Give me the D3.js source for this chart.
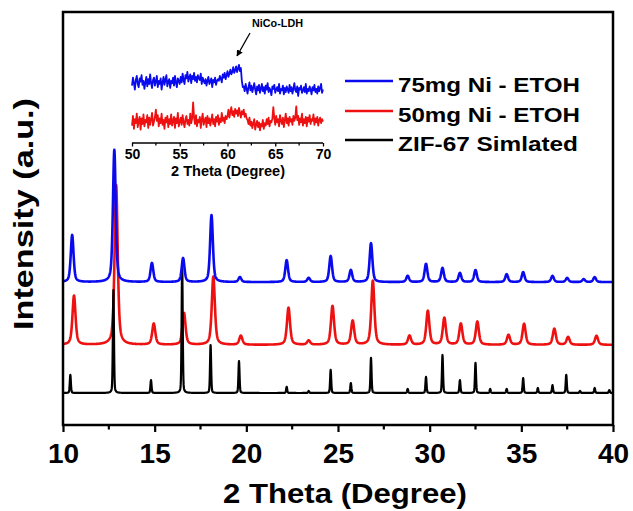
<!DOCTYPE html>
<html>
<head>
<meta charset="utf-8">
<script src="https://cdn.jsdelivr.net/npm/d3@7/dist/d3.min.js"></script>
<style>
  html, body { margin: 0; padding: 0; background: #fff; }
  svg text { font-family: "Liberation Sans", Arial, Helvetica, sans-serif; font-weight: bold; fill: #000; }
</style>
</head>
<body>
<svg id="chart" width="633" height="511"></svg>
<script>
// ---- XRD peak tables: [2θ position (deg), peak intensity (a.u.)] ----
const peaks75 = [
  [10.5, 11.4], [12.8, 32.0], [14.85, 4.6], [16.55, 5.8], [18.1, 16.2], [19.65, 1.2],
  [22.2, 5.3], [23.4, 1.0], [24.6, 6.3], [25.7, 2.9], [26.8, 9.4], [28.8, 1.5],
  [29.8, 4.4], [30.7, 3.4], [31.65, 2.2], [32.5, 2.9], [34.2, 1.9], [35.1, 2.4],
  [36.7, 1.5], [37.5, 1.0], [38.4, 0.7], [39.0, 1.2]
];
const peaks50 = [
  [10.6, 11.9], [12.9, 38.7], [14.95, 5.1], [16.6, 7.7], [18.2, 16.5], [19.7, 2.2],
  [22.3, 9.0], [23.4, 1.0], [24.7, 9.4], [25.8, 5.8], [26.9, 15.5], [28.9, 2.2],
  [29.9, 8.2], [30.8, 6.5], [31.7, 5.1], [32.6, 5.6], [34.3, 2.4], [35.15, 5.1],
  [36.8, 3.9], [37.55, 1.9], [39.1, 2.2]
];
const peaksSim = [
  [10.4, 4.4], [12.75, 24.9], [14.8, 3.1], [16.5, 31.0], [18.05, 11.6], [19.6, 7.7],
  [22.2, 1.5], [23.4, 0.5], [24.6, 5.6], [25.7, 2.4], [26.8, 8.5], [28.8, 1.0],
  [29.8, 3.9], [30.7, 9.2], [31.65, 3.1], [32.5, 7.3], [33.3, 1.0], [34.2, 1.0],
  [35.1, 3.6], [35.9, 1.2], [36.7, 1.9], [37.45, 4.4], [38.2, 0.5], [39.0, 1.2], [39.8, 0.7]
];
// vertical offsets of the stacked patterns (a.u.)
const offsets = { s75: 34.6, s50: 19.4, sim: 7.75 };

const seriesNames = ["75mg Ni - ETOH", "50mg Ni - ETOH", "ZIF-67 Simlated"];
const seriesColors = ["#0a0aee", "#ee1111", "#000000"];

// ---- inset: high-angle scan 50–70°, step 0.1° ----
const insetTheta0 = 50, insetStep = 0.1;
const inset75 = [
  68,78,71,63,75,80,70,66,77,73,81,69,74,64,72,79,67,76,70,82,
  71,65,75,78,68,73,80,66,74,70,77,63,72,79,69,75,81,67,73,76,
  65,74,71,78,68,80,72,66,77,74,70,
  79,72,83,75,70,81,77,85,73,78,82,71,80,76,84,74,79,72,81,77,75,83,70,78,74,
  71,76,68,74,79,70,73,77,66,75,72,78,69,74,76,
  74,80,77,72,82,78,84,76,81,86,79,83,88,82,85,91,84,87,92,85,89,94,86,90,
  74,66,
  67,61,70,64,58,66,72,62,68,60,65,71,63,57,67,62,69,59,64,70,
  61,66,58,68,63,71,60,65,62,56,67,64,69,59,63,66,61,70,58,64,
  62,68,57,65,60,67,63,59,69,61,66,58,64,71,62,60,67,55,65,63,
  68,59,62,66,60,70,58,64,61,67,63,57,66,62,69,60,64,58,67,61,
  65,70,59,63
];
const inset50 = [
  18,30,14,26,21,33,16,24,29,13,27,20,32,17,25,22,31,15,28,19,26,34,18,23,29,
  38,
  24,31,17,27,21,33,19,25,14,28,22,30,16,26,20,32,18,24,29,15,
  27,21,34,17,23,28,19,31,22,16,26,30,20,25,18,33,21,27,
  47,
  28,20,31,17,25,22,29,15,26,33,19,24,28,16,30,21,27,18,25,32,
  20,26,17,29,23,31,19,27,22,34,24,28,21,30,26,
  30,38,28,35,41,31,36,29,39,33,37,30,40,34,28,36,32,38,29,33,27,
  25,20,28,18,23,15,21,26,13,19,24,16,22,12,20,17,25,14,21,18,26,20,28,17,24,22,27,
  41,
  27,19,30,22,26,17,31,24,20,28,16,25,33,21,27,18,29,23,26,19,30,24,28,
  42,
  25,30,19,27,22,33,18,26,21,29,17,28,23,31,20,26,24,32,19,27,22,29,18,25,28,21,26,23
];

const xTicks = [10, 15, 20, 25, 30, 35, 40];
const insetTicks = [50, 55, 60, 65, 70];

// ---- layout ----
const svg = d3.select("#chart");
const L = 63, R = 613, T = 12, B = 425;

const x = d3.scaleLinear().domain([10, 40]).range([L, R]);
const y = d3.scaleLinear().domain([0, 100]).range([B, T]);

// pseudo-Voigt line shape with unit height
function profile(d, fwhm, eta) {
  const g = Math.exp(-4 * Math.LN2 * d * d / (fwhm * fwhm));
  const l = 1 / (1 + 4 * d * d / (fwhm * fwhm));
  return eta * l + (1 - eta) * g;
}
function pattern(peaks, offset, fwhm, eta) {
  return d3.range(10, 40.0001, 0.01).map(t => {
    let v = offset;
    for (const [c, h] of peaks) v += h * profile(t - c, fwhm, eta);
    return [t, v];
  });
}

const line = d3.line().x(d => x(d[0])).y(d => y(d[1]));

svg.append("clipPath").attr("id", "plotClip")
  .append("rect").attr("x", L).attr("y", T).attr("width", R - L).attr("height", B - T);

const plot = svg.append("g").attr("clip-path", "url(#plotClip)");
plot.append("path").datum(pattern(peaks50, offsets.s50, 0.2, 0.55))
  .attr("d", line).attr("fill", "none").attr("stroke", seriesColors[1])
  .attr("stroke-width", 2.6).attr("stroke-linejoin", "round");
plot.append("path").datum(pattern(peaksSim, offsets.sim, 0.07, 0.3))
  .attr("d", line).attr("fill", "none").attr("stroke", seriesColors[2])
  .attr("stroke-width", 2.2).attr("stroke-linejoin", "round");
plot.append("path").datum(pattern(peaks75, offsets.s75, 0.18, 0.5))
  .attr("d", line).attr("fill", "none").attr("stroke", seriesColors[0])
  .attr("stroke-width", 2.6).attr("stroke-linejoin", "round");

// frame
svg.append("rect").attr("x", L).attr("y", T).attr("width", R - L).attr("height", B - T)
  .attr("fill", "none").attr("stroke", "#000").attr("stroke-width", 2.5);

// bottom axis: major ticks with labels, minor ticks between
const xAxis = d3.axisBottom(x).tickValues(xTicks).tickSize(7).tickSizeOuter(0).tickPadding(11)
  .tickFormat(d3.format("d"));
const gx = svg.append("g").attr("transform", `translate(0,${B})`).call(xAxis);
gx.select(".domain").remove();
gx.selectAll(".tick line").attr("stroke-width", 2.2);
gx.selectAll(".tick text").style("font-size", "28px").attr("dy", "0.71em");
svg.append("g").selectAll("line").data(d3.range(12.5, 40, 5)).join("line")
  .attr("x1", d => x(d)).attr("x2", d => x(d)).attr("y1", B).attr("y2", B + 4.5)
  .attr("stroke", "#000").attr("stroke-width", 2.2);

// axis titles
svg.append("text").attr("x", 345).attr("y", 503).attr("text-anchor", "middle")
  .style("font-size", "28px").attr("textLength", 244).attr("lengthAdjust", "spacingAndGlyphs")
  .text("2 Theta (Degree)");
svg.append("text").attr("transform", "translate(33,214) rotate(-90)").attr("text-anchor", "middle")
  .style("font-size", "27px").attr("textLength", 232).attr("lengthAdjust", "spacingAndGlyphs")
  .text("Intensity (a.u.)");

// legend
const legY = [81, 111, 140];
const leg = svg.append("g");
seriesNames.forEach((name, i) => {
  leg.append("line").attr("x1", 345).attr("x2", 393).attr("y1", legY[i]).attr("y2", legY[i])
    .attr("stroke", seriesColors[i]).attr("stroke-width", 2.6);
  leg.append("text").attr("x", 398).attr("y", legY[i] + 4).attr("dy", "0.35em")
    .style("font-size", "20px").attr("textLength", i === 2 ? 180 : 182)
    .attr("lengthAdjust", "spacingAndGlyphs").text(name);
});

// ---- inset ----
const ix = d3.scaleLinear().domain([50, 70]).range([132, 323]);
const iy = d3.scaleLinear().domain([0, 100]).range([140, 60]);
const iline = d3.line().x((d, i) => ix(insetTheta0 + i * insetStep)).y(d => iy(d));
const inset = svg.append("g");
inset.append("path").datum(inset75).attr("d", iline).attr("fill", "none")
  .attr("stroke", seriesColors[0]).attr("stroke-width", 1.8).attr("stroke-linejoin", "round");
inset.append("path").datum(inset50).attr("d", iline).attr("fill", "none")
  .attr("stroke", seriesColors[1]).attr("stroke-width", 1.8).attr("stroke-linejoin", "round");

const iAxis = d3.axisBottom(ix).tickValues(insetTicks).tickSize(3.5).tickSizeOuter(0).tickPadding(3)
  .tickFormat(d3.format("d"));
const gi = svg.append("g").attr("transform", "translate(0,143)").call(iAxis);
gi.select(".domain").attr("stroke-width", 1.5).attr("d", `M${ix(50)},0H${ix(70)}`);
gi.selectAll(".tick line").attr("stroke-width", 1.3);
gi.selectAll(".tick text").style("font-size", "14px").attr("dy", "0.71em");
svg.append("g").selectAll("line").data(d3.range(52.5, 70, 5)).join("line")
  .attr("x1", d => ix(d)).attr("x2", d => ix(d)).attr("y1", 143).attr("y2", 145.5)
  .attr("stroke", "#000").attr("stroke-width", 1.3);
svg.append("text").attr("x", 228).attr("y", 176).attr("text-anchor", "middle")
  .style("font-size", "14px").attr("textLength", 114).attr("lengthAdjust", "spacingAndGlyphs")
  .text("2 Theta (Degree)");

// annotation with arrow
svg.append("defs").append("marker").attr("id", "arrowHead")
  .attr("viewBox", "0 0 10 10").attr("refX", 9).attr("refY", 5)
  .attr("markerWidth", 5).attr("markerHeight", 5).attr("orient", "auto")
  .append("path").attr("d", "M0,0L10,5L0,10Z").attr("fill", "#000");
svg.append("line").attr("x1", 250).attr("y1", 33).attr("x2", 237).attr("y2", 56)
  .attr("stroke", "#000").attr("stroke-width", 1.3).attr("marker-end", "url(#arrowHead)");
svg.append("text").attr("x", 252).attr("y", 27).style("font-size", "10px")
  .attr("textLength", 51).attr("lengthAdjust", "spacingAndGlyphs").text("NiCo-LDH");
</script>
</body>
</html>
